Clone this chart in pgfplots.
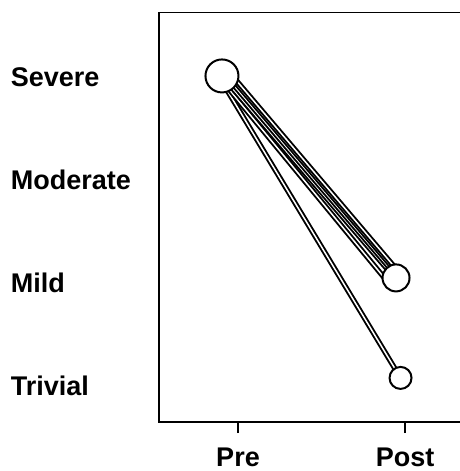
\documentclass[border=0pt]{standalone}
\usepackage{fontspec}
\setmainfont{Liberation Sans}
\usepackage{pgfplots}
\pgfplotsset{compat=1.18}
\begin{document}
\begin{tikzpicture}
\useasboundingbox (-159pt,-49pt) rectangle (301pt,422pt);
\begin{axis}[
  at={(0pt,0pt)}, anchor=south west,
  scale only axis, width=301pt, height=409.5pt,
  xmin=-0.473, xmax=1.329, ymin=-0.35, ymax=3.626,
  axis x line*=bottom, axis y line*=left,
  axis line style={line width=1.6pt, line cap=rect},
  xtick={0,1}, xticklabels={Pre,Post},
  ytick={0,1,2,3}, yticklabels={Trivial,Mild,Moderate,Severe},
  tick align=outside, major tick length=11pt,
  xtick style={line width=1.6pt, black},
  ytick style={draw=none},
  ticklabel style={font=\fontsize{27}{31}\selectfont\bfseries},
  xticklabel style={inner sep=0pt, anchor=north, yshift=-15pt},
  yticklabel style={inner sep=0pt, anchor=east, text width=137pt, align=left},
  clip=false,
  line cap=butt,
]
\draw[line width=1.6pt, line cap=rect] (rel axis cs:0,1) -- (rel axis cs:1,1);
% Pre -> Trivial
\addplot[black, line width=1.9pt, double=white, double distance=1.5pt] coordinates {(-0.1113,2.9949) (0.973,0.078)};
% Pre -> Mild
\addplot[black, line width=1.9pt, double=white, double distance=1.5pt] coordinates {(-0.1094,2.9907) (0.9053,0.9915)};
\addplot[black, line width=1.9pt, double=white, double distance=1.5pt] coordinates {(-0.0958,3.0097) (0.9416,1.0422)};
\addplot[black, line width=1.9pt, double=white, double distance=1.5pt] coordinates {(-0.0822,3.0287) (0.9529,1.0581)};
\addplot[black, line width=1.9pt, double=white, double distance=1.5pt] coordinates {(-0.0686,3.0478) (0.9643,1.0739)};
\addplot[black, line width=1.9pt, double=white, double distance=1.5pt] coordinates {(-0.0595,3.0604) (0.9733,1.0866)};
% circles
\addplot[only marks, mark=*, mark size=16.5pt, mark options={fill=white, draw=black, line width=2pt}] coordinates {(-0.096,3.010)};
\addplot[only marks, mark=*, mark size=13.5pt, mark options={fill=white, draw=black, line width=2pt}] coordinates {(0.946,1.049)};
\addplot[only marks, mark=*, mark size=11pt, mark options={fill=white, draw=black, line width=2pt}] coordinates {(0.973,0.078)};
\end{axis}
\end{tikzpicture}
\end{document}
